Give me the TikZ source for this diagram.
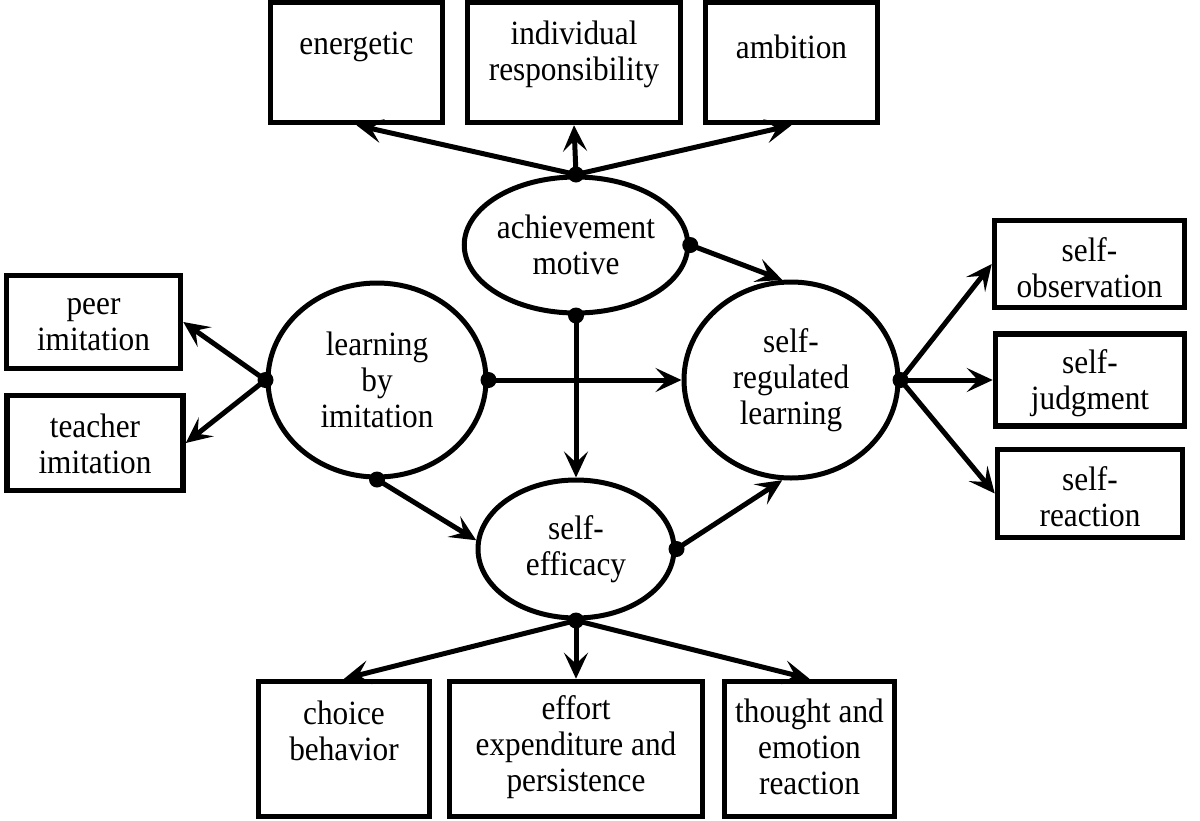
\documentclass[tikz,border=0pt]{standalone}
\usepackage{fontspec}
\setmainfont[FakeStretch=0.92]{Liberation Serif}
\usetikzlibrary{arrows.meta,shapes.geometric}
\begin{document}
\begin{tikzpicture}[x=1pt,y=-1pt,
  box/.style={draw, line width=5.5pt, rectangle, inner sep=0pt},
  ell/.style={draw, line width=5pt, ellipse, inner sep=0pt, align=center, font=\fontsize{34}{36}\selectfont},
  txt/.style={align=center, font=\fontsize{34}{36}\selectfont, inner sep=0pt},
  arr/.style={line width=5pt, -{Stealth[length=26pt,width=24pt,inset=11pt]}},
  dotn/.style={circle, fill, inner sep=0pt, minimum size=16pt}]
\useasboundingbox (0,0) rectangle (1200,820);
% top boxes
\node[box, minimum width=172pt, minimum height=120pt] (en) at (356.5,62.5) {};
\node[box, minimum width=213pt, minimum height=120pt] (ir) at (574,62.5) {};
\node[box, minimum width=172pt, minimum height=120pt] (amb) at (791.5,62.5) {};
\node[txt] (en-t) at (356.5,47) {energetic};
\node[txt] (ir-t) at (574,54) {individual\\responsibility};
\node[txt] (amb-t) at (791.5,47) {ambition};
% left boxes
\node[box, minimum width=174pt, minimum height=93pt] (pi) at (93.5,322) {};
\node[box, minimum width=176pt, minimum height=95pt] (ti) at (95,443) {};
\node[txt] (pi-t) at (93.5,325) {peer\\imitation};
\node[txt] (ti-t) at (95,444) {teacher\\imitation};
% right boxes
\node[box, minimum width=190pt, minimum height=87pt] (so) at (1089.5,264) {};
\node[box, minimum width=189pt, minimum height=92pt] (sj) at (1090,380) {};
\node[box, minimum width=185pt, minimum height=88pt] (sr) at (1090,493.5) {};
\node[txt] (so-t) at (1089.5,268) {self-\\observation};
\node[txt] (sj-t) at (1090,383) {self-\\judgment};
\node[txt] (sr-t) at (1090,497) {self-\\reaction};
% bottom boxes
\node[box, minimum width=171pt, minimum height=135pt] (cb) at (344,749) {};
\node[box, minimum width=253pt, minimum height=135pt] (ee) at (576,749) {};
\node[box, minimum width=170pt, minimum height=135pt] (te) at (809.5,749) {};
\node[txt] (cb-t) at (344,731) {choice\\behavior};
\node[txt] (ee-t) at (576,747) {effort\\expenditure and\\persistence};
\node[txt] (te-t) at (809.5,747) {thought and\\emotion\\reaction};
% ellipses
\node[ell, minimum width=216pt, minimum height=136pt] (am) at (576,245) {achievement\\motive};
\node[ell, minimum width=218pt, minimum height=194pt] (lbi) at (377,380) {learning\\by\\imitation};
\node[ell, minimum width=214pt, minimum height=196pt] (srl) at (791,380) {self-\\regulated\\learning};
\node[ell, minimum width=196pt, minimum height=138pt] (se) at (576,549) {self-\\efficacy};
% arrows
\draw[arr] (am.north) -- (en.south);
\draw[arr] (am.north) -- (ir.south);
\draw[arr] (am.north) -- (amb.south);
\draw[arr] (am.east) -- (srl.95);
\draw[arr] (am.south) -- (se.north);
\draw[arr] (lbi.west) -- (pi.east);
\draw[arr] (lbi.west) -- (ti.east);
\draw[arr] (lbi.east) -- (srl.west);
\draw[arr] (lbi.south) -- (se.175);
\draw[arr] (se.east) -- (srl.-95);
\draw[arr] (srl.east) -- (so.west);
\draw[arr] (srl.east) -- (sj.west);
\draw[arr] (srl.east) -- (sr.west);
\draw[arr] (se.south) -- (cb.north);
\draw[arr] (se.south) -- (ee.north);
\draw[arr] (se.south) -- (te.north);
% dots
\node[dotn] (d1) at (am.north) {};
\node[dotn] (d2) at (am.east) {};
\node[dotn] (d3) at (am.south) {};
\node[dotn] (d4) at (lbi.west) {};
\node[dotn] (d5) at (lbi.east) {};
\node[dotn] (d6) at (lbi.south) {};
\node[dotn] (d7) at (srl.east) {};
\node[dotn] (d8) at (se.east) {};
\node[dotn] (d9) at (se.south) {};
\end{tikzpicture}
\end{document}
